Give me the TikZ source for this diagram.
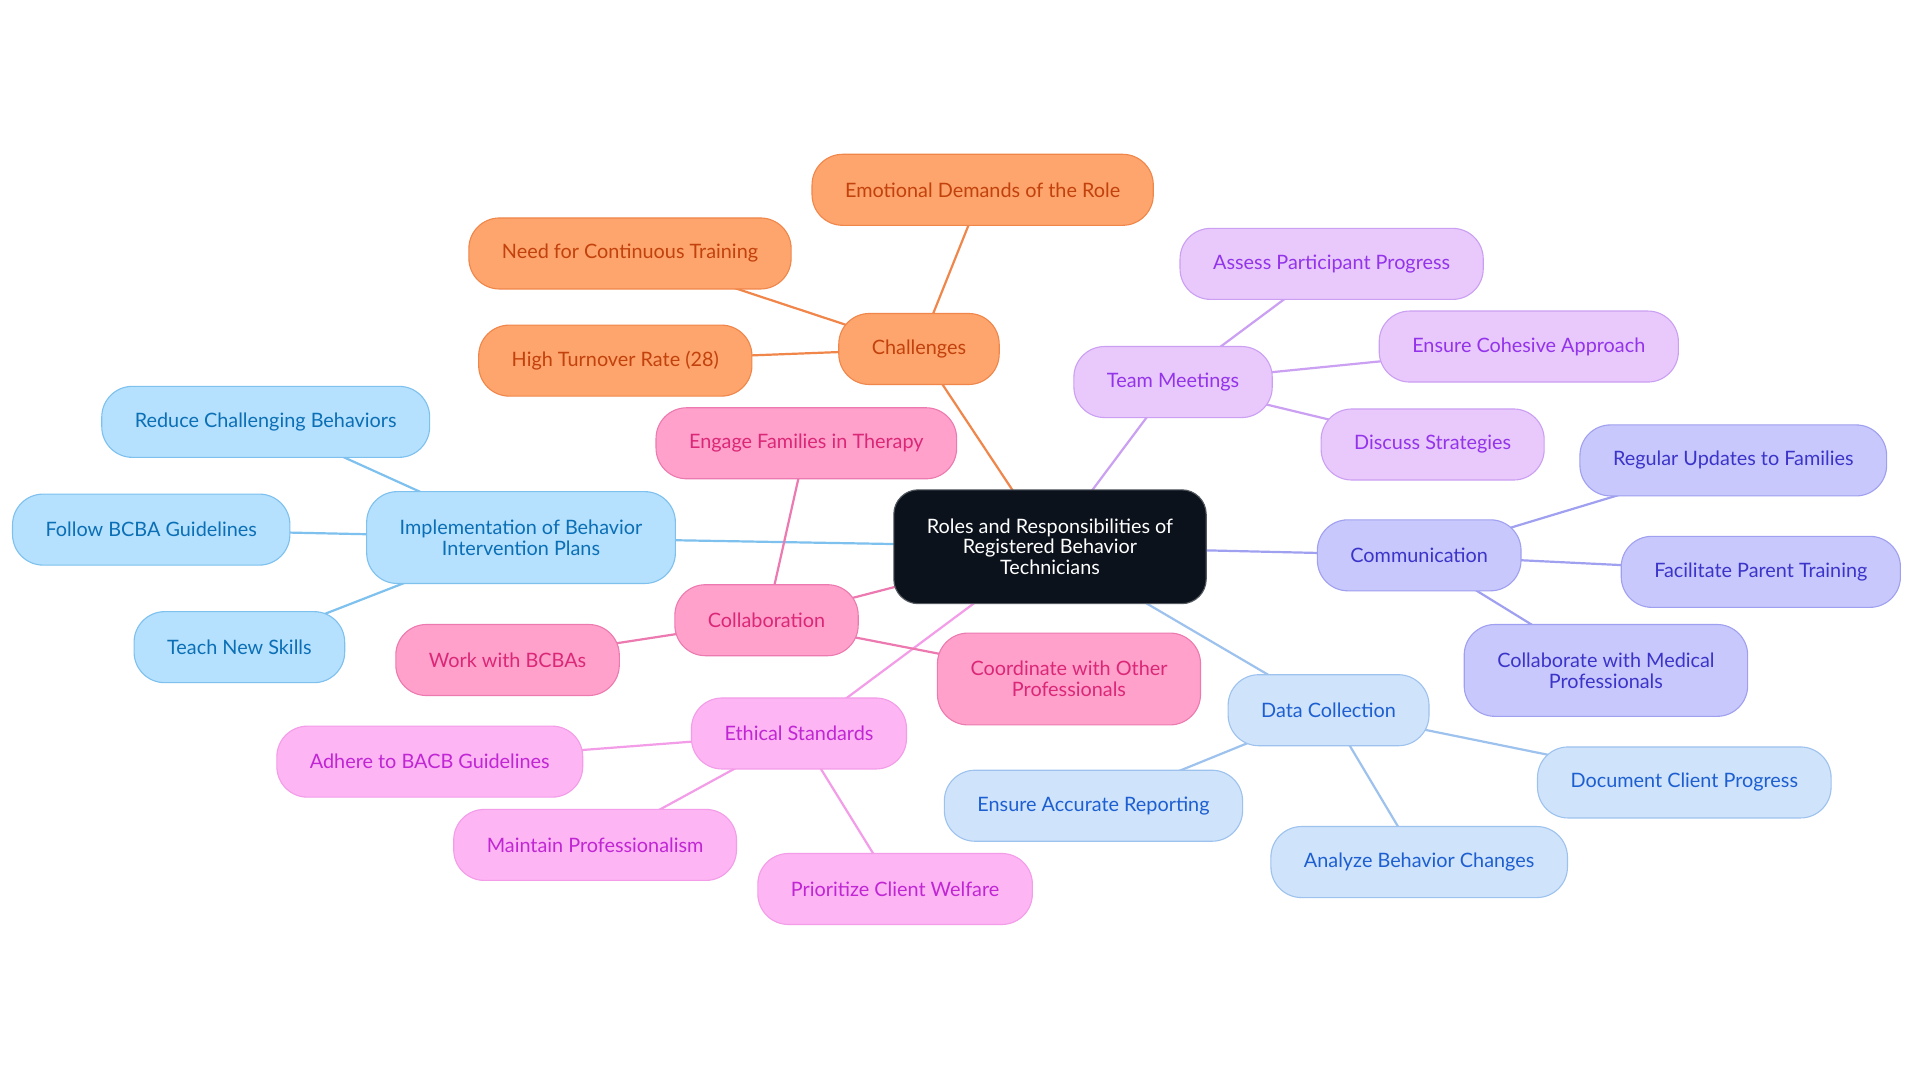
\documentclass[tikz,border=0pt]{standalone}
\usepackage{fontspec}
\setmainfont{Lato}
\usetikzlibrary{backgrounds}

% branch colours
\definecolor{rootfill}{HTML}{0B121C}
\definecolor{orfill}{HTML}{FDA56D}
\definecolor{oredge}{HTML}{F0864A}
\definecolor{ortext}{HTML}{C2410C}
\definecolor{pufill}{HTML}{E9C9FC}
\definecolor{puedge}{HTML}{CB9FF2}
\definecolor{putext}{HTML}{9333EA}
\definecolor{infill}{HTML}{C8C8FC}
\definecolor{inedge}{HTML}{A0A0F0}
\definecolor{intext}{HTML}{3B34C9}
\definecolor{dafill}{HTML}{CFE3FB}
\definecolor{daedge}{HTML}{9EC2EE}
\definecolor{datext}{HTML}{1D5FD1}
\definecolor{etfill}{HTML}{FDB5F4}
\definecolor{etedge}{HTML}{F39DE8}
\definecolor{ettext}{HTML}{C026D3}
\definecolor{cofill}{HTML}{FFA1CB}
\definecolor{coedge}{HTML}{EC7AB0}
\definecolor{cotext}{HTML}{DB2777}
\definecolor{imfill}{HTML}{B5E0FE}
\definecolor{imedge}{HTML}{7EC1EE}
\definecolor{imtext}{HTML}{0B6FB5}

\tikzset{
  every node/.style={font=\fontsize{16.2}{17}\selectfont},
  topic/.style={rounded corners=25pt, line width=0.9pt, minimum height=58pt,
    inner xsep=27pt, align=center},
  twoline/.style={minimum height=75pt},
  root/.style={topic, rounded corners=20pt, fill=rootfill, draw=rootfill!70!white,
    text=white, minimum width=255pt, minimum height=93pt},
  orbox/.style={topic, fill=orfill, draw=oredge, text=ortext},
  pubox/.style={topic, fill=pufill, draw=puedge, text=putext},
  inbox/.style={topic, fill=infill, draw=inedge, text=intext},
  dabox/.style={topic, fill=dafill, draw=daedge, text=datext},
  etbox/.style={topic, fill=etfill, draw=etedge, text=ettext},
  cobox/.style={topic, fill=cofill, draw=coedge, text=cotext},
  imbox/.style={topic, fill=imfill, draw=imedge, text=imtext},
  link/.style={line width=1.8pt},
}

\begin{document}
\begin{tikzpicture}[x=1pt,y=-1pt]
  \useasboundingbox (0,0) rectangle (1568,884);

  % central topic
  \node[root] (roles) at (857.5,446.5) {Roles and Responsibilities of\\Registered Behavior\\Technicians};

  % challenges
  \node[orbox] (chal) at (750.5,285) {Challenges};
  \node[orbox] (emo) at (802.5,155) {Emotional Demands of the Role};
  \node[orbox] (train) at (514.5,207) {Need for Continuous Training};
  \node[orbox] (turn) at (502.5,294.5) {High Turnover Rate (28)};

  % team meetings
  \node[pubox] (meet) at (958,312) {Team Meetings};
  \node[pubox] (assess) at (1087.5,215.5) {Assess Participant Progress};
  \node[pubox] (cohes) at (1248.5,283) {Ensure Cohesive Approach};
  \node[pubox] (discuss) at (1170,363) {Discuss Strategies};

  % communication
  \node[inbox] (comm) at (1159,453.5) {Communication};
  \node[inbox] (updates) at (1415.5,376) {Regular Updates to Families};
  \node[inbox] (parent) at (1438,467) {Facilitate Parent Training};
  \node[inbox, twoline] (medic) at (1311.5,547.5) {Collaborate with Medical\\Professionals};

  % data collection
  \node[dabox] (data) at (1085,580) {Data Collection};
  \node[dabox] (docu) at (1375.5,639) {Document Client Progress};
  \node[dabox] (report) at (893,658) {Ensure Accurate Reporting};
  \node[dabox] (analyze) at (1159,704) {Analyze Behavior Changes};

  % ethical standards
  \node[etbox] (ethic) at (652.5,599) {Ethical Standards};
  \node[etbox] (bacb) at (351,622) {Adhere to BACB Guidelines};
  \node[etbox] (prof) at (486,690) {Maintain Professionalism};
  \node[etbox] (welfare) at (731,726) {Prioritize Client Welfare};

  % collaboration
  \node[cobox] (collab) at (626,506.5) {Collaboration};
  \node[cobox] (engage) at (658.5,362) {Engage Families in Therapy};
  \node[cobox] (bcbas) at (414.5,539) {Work with BCBAs};
  \node[cobox, twoline] (coord) at (873,554.5) {Coordinate with Other\\Professionals};

  % implementation
  \node[imbox, twoline] (impl) at (425.5,439) {Implementation of Behavior\\Intervention Plans};
  \node[imbox] (reduce) at (217,344.5) {Reduce Challenging Behaviors};
  \node[imbox] (follow) at (123.5,432.5) {Follow BCBA Guidelines};
  \node[imbox] (teach) at (195.5,528.5) {Teach New Skills};

  % connectors behind the boxes
  \begin{scope}[on background layer]
    \fill[white] (0,0) rectangle (1568,884);
    \draw[link, oredge] (roles.center) -- (chal.center);
    \draw[link, puedge] (roles.center) -- (meet.center);
    \draw[link, inedge] (roles.center) -- (comm.center);
    \draw[link, daedge] (roles.center) -- (data.center);
    \draw[link, etedge] (roles.center) -- (ethic.center);
    \draw[link, coedge] (roles.center) -- (collab.center);
    \draw[link, imedge] (roles.center) -- (impl.center);
    \foreach \leaf in {emo,train,turn}
      \draw[link, oredge] (chal.center) -- (\leaf.center);
    \foreach \leaf in {assess,cohes,discuss}
      \draw[link, puedge] (meet.center) -- (\leaf.center);
    \foreach \leaf in {updates,parent,medic}
      \draw[link, inedge] (comm.center) -- (\leaf.center);
    \foreach \leaf in {docu,report,analyze}
      \draw[link, daedge] (data.center) -- (\leaf.center);
    \foreach \leaf in {bacb,prof,welfare}
      \draw[link, etedge] (ethic.center) -- (\leaf.center);
    \foreach \leaf in {engage,bcbas,coord}
      \draw[link, coedge] (collab.center) -- (\leaf.center);
    \foreach \leaf in {reduce,follow,teach}
      \draw[link, imedge] (impl.center) -- (\leaf.center);
  \end{scope}
\end{tikzpicture}
\end{document}
